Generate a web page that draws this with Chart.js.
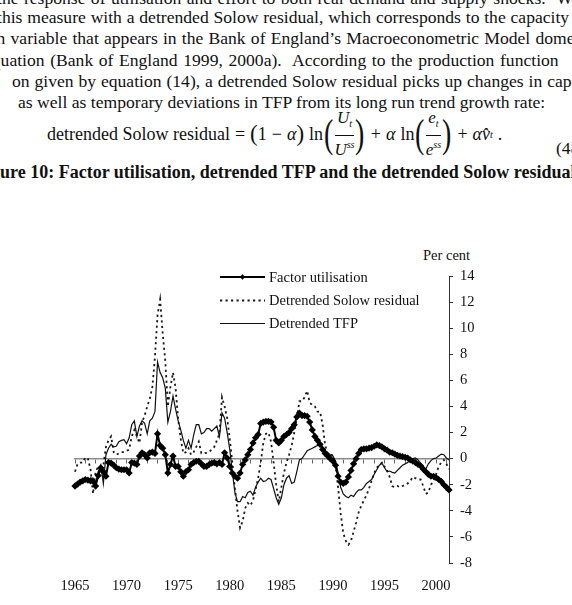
<!DOCTYPE html>
<html>
<head>
<meta charset="utf-8">
<script src="https://cdn.jsdelivr.net/npm/chart.js@4.4.1/dist/chart.umd.min.js"></script>
<style>
  html, body { margin: 0; padding: 0; background: #fff; }
  body {
    width: 572px; height: 605px; overflow: hidden; position: relative;
    font-family: "Liberation Serif", "Times New Roman", serif; color: #111;
  }
  .ln { position: absolute; white-space: nowrap; font-size: 17.6px; line-height: 22px; }
  .title { font-weight: bold; font-size: 18px; }
  #eq { position: absolute; left: 47px; top: 112px; height: 44px; display: flex; align-items: center;
        white-space: nowrap; font-size: 18px; }
  #eq i { font-style: italic; }
  .bp { font-size: 40px; line-height: 40px; transform: scaleX(0.7); display: inline-block; margin: 0 -1px; }
  .mp { font-size: 23px; display: inline-block; }
  .frac { display: inline-flex; flex-direction: column; align-items: center; font-size: 17px; line-height: 18px; }
  .frac .num { border-bottom: 1px solid #111; padding: 0 2px 1px; }
  .frac sub, .frac sup, #eq sub { font-size: 10px; }
  .sp { display: inline-block; width: 5px; }
  #percent { position: absolute; left: 423px; top: 247px; font-size: 14.5px; white-space: nowrap; }
  #chart { position: absolute; left: 0; top: 0; }
</style>
</head>
<body>
<div class="ln" style="left:-3px; top:-13px; word-spacing:1px">the response of utilisation and effort to both real demand and supply shocks.&nbsp; We</div>
<div class="ln" style="left:-3px; top:6px; word-spacing:0.4px">this measure with a detrended Solow residual, which corresponds to the capacity</div>
<div class="ln" style="left:-65px; top:27px; word-spacing:0.8px">utilisation variable that appears in the Bank of England’s Macroeconometric Model domestic</div>
<div class="ln" style="left:-16px; top:49px; word-spacing:1.2px">equation (Bank of England 1999, 2000a).&nbsp; According to the production function</div>
<div class="ln" style="left:12px; top:70px; word-spacing:0.5px">on given by equation (14), a detrended Solow residual picks up changes in capacity</div>
<div class="ln" style="left:18px; top:91px">as well as temporary deviations in TFP from its long run trend growth rate:</div>
<div id="eq">
  <span>detrended Solow residual</span><span class="sp"></span>=<span class="sp"></span>
  <span class="mp">(</span>1<span class="sp"></span>−<span class="sp"></span><i>α</i><span class="mp">)</span><span class="sp"></span>ln
  <span class="bp">(</span><span class="frac"><span class="num"><i>U</i><sub><i>t</i></sub></span><span class="den"><i>U</i><sup><i>ss</i></sup></span></span><span class="bp">)</span>
  <span class="sp"></span>+<span class="sp"></span><i>α</i><span class="sp"></span>ln
  <span class="bp">(</span><span class="frac"><span class="num"><i>e</i><sub><i>t</i></sub></span><span class="den"><i>e</i><sup><i>ss</i></sup></span></span><span class="bp">)</span>
  <span class="sp"></span>+<span class="sp"></span><i>α</i><i>v̂</i><sub><i>t</i></sub><span class="sp"></span>.
</div>
<div class="ln" style="left:556px; top:137px">(48)</div>
<div class="ln title" style="left:-25px; top:161px">Figure 10: Factor utilisation, detrended TFP and the detrended Solow residual</div>
<div id="percent">Per cent</div>
<canvas id="chart" width="572" height="605"></canvas>
<script>
// quarterly observations, 1965 Q1 to 2001 Q2
const quarters = [];
for (let year = 1965; year <= 2001; year++) {
    for (let q = 1; q <= 4; q++) {
        if (year === 2001 && q > 2) break;
        quarters.push(`${year} Q${q}`);
    }
}
const yearLabels = ["1965", "1970", "1975", "1980", "1985", "1990", "1995", "2000"];

const factorUtilisation = [
    -2.1, -1.95, -1.8, -1.7, -1.6, -1.65, -1.7, -1.75, -2.1, -1.3,
    -0.7, -1.0, -1.35, -0.3, -0.35, -0.5, -0.7, -0.8, -0.85, -0.85,
    -0.85, -1.1, -0.3, -0.35, -0.45, 0.2, 0.45, 0.3, 0.05, 0.45,
    0.5, 0.4, 1.9, 1.0, 0.8, 0.3, -1.1, -0.45, 0.2, -0.6,
    -0.6, -1.0, -1.35, -1.0, -0.85, -0.45, -0.3, -0.2, -0.2, -0.4,
    -0.6, -0.6, -0.45, -0.35, -0.3, -0.4, -0.3, -0.45, 0.45, 0.05,
    -0.6, -1.1, -1.35, -1.5, -1.1, -0.45, -0.1, 0.3, 0.7, 1.2,
    1.6, 1.85, 2.7, 2.8, 2.85, 2.85, 2.8, 2.4, 1.4, 1.2,
    1.4, 1.7, 1.85, 2.0, 2.3, 2.6, 3.2, 3.5, 3.3, 3.3,
    3.25, 2.8, 2.2, 1.7, 1.4, 1.1, 0.7, 0.4, 0.2, 0.0,
    -0.2, -0.5, -1.35, -1.8, -1.9, -1.8, -1.4, -0.9, -0.4, 0.0,
    0.4, 0.7, 0.75, 0.75, 0.8, 0.85, 0.95, 1.05, 1.0, 0.9,
    0.75, 0.65, 0.5, 0.45, 0.35, 0.25, 0.2, 0.15, 0.1, 0.05,
    -0.1, -0.2, -0.3, -0.45, -0.55, -0.8, -1.0, -1.2, -1.35, -1.35,
    -1.45, -1.6, -1.75, -2.0, -2.2, -2.4,
];

const solowResidual = [
    -1.0, -0.4, -0.3, -0.3, 0.1, 0.0, -0.8, -2.7, -1.0, -0.6,
    -0.7, -0.5, 0.9, 1.4, 1.7, 0.5, 0.3, 0.4, 0.5, 0.5,
    0.6, 0.7, 1.7, 2.2, 1.7, 1.2, 2.8, 3.3, 4.0, 4.6,
    5.5, 7.8, 11.0, 12.2, 9.6, 7.5, 4.0, 5.5, 6.6, 5.4,
    3.0, 1.5, 0.4, 0.5, 0.8, 0.3, 0.5, 0.9, 1.3, 0.4,
    0.4, 0.45, 0.5, 0.7, 0.9, 1.4, 1.9, 4.7, 4.0, 3.1,
    1.5, -0.3, -2.3, -4.0, -5.3, -4.8, -3.8, -3.4, -3.6, -3.2,
    -2.4, -1.5, -0.3, 1.2, 1.9, 2.0, 1.3, -0.3, -2.0, -3.3,
    -2.2, -1.1, -0.3, 0.3, 1.0, 2.0, 3.1, 4.4, 4.4, 4.7,
    5.2, 4.3, 4.1, 4.0, 3.6, 3.6, 2.6, 1.0, 0.35, 0.3,
    0.25, -0.5, -2.2, -4.2, -5.7, -6.3, -6.6, -6.3, -5.6, -4.9,
    -4.1, -3.6, -3.2, -2.8, -2.3, -1.7, -1.1, -0.7, -0.5, -0.3,
    -0.6, -0.9, -1.4, -2.1, -2.2, -2.1, -2.2, -2.1, -2.0, -1.9,
    -1.7, -1.4, -1.5, -1.6, -1.6, -2.1, -2.7, -2.6, -2.0, -1.7,
    -1.2, -0.6, -0.3, -0.1, -0.4, -0.8,
];

const detrendedTFP = [
    -1.9, -1.8, -1.7, -1.7, -1.6, -1.6, -1.5, -1.5, -1.9, -1.0,
    -0.5, -1.9, 0.3, 0.8, 1.1, 0.9, 0.95, 1.3, 1.4, 1.45,
    1.15, 1.6, 2.6, 2.9, 1.7, 2.5, 2.9, 2.7, 1.9, 2.9,
    3.1, 3.6, 7.4, 6.6, 6.2, 5.4, 2.8, 3.6, 4.8, 3.8,
    2.9, 2.2, 1.4, 0.8, 1.4, 0.8, 1.8, 2.6, 2.6, 1.9,
    2.0, 2.3, 2.3, 2.1, 2.3, 2.5, 1.7, 3.5, 3.1, 2.0,
    0.7, -1.0, -2.6, -3.3, -3.3, -2.9, -3.0, -2.6, -2.5, -2.8,
    -2.2, -1.8, -1.5, -1.75, -1.7, -1.5, -1.6, -2.3, -3.0, -3.5,
    -3.0, -2.0, -1.5, -1.3, -1.9, -1.8, -1.0, -0.1, 0.0, 0.3,
    0.6, 0.7, 0.8, 0.9, 1.0, 1.2, 0.9, 0.6, 0.45, 0.3,
    0.2, -0.2, -1.1, -2.2, -2.7, -2.9, -3.0, -2.8, -2.9, -2.6,
    -2.4, -2.4, -2.2, -1.9, -1.75, -1.6, -1.2, -0.85, -0.5, -0.35,
    -0.7, -1.0, -0.95, -1.05, -1.1, -0.9, -0.7, -0.5, -0.4, -0.3,
    -0.1, 0.0, 0.05, -0.1, -0.35, -0.65, -0.8, -0.4, -0.15, 0.0,
    0.05, 0.2, 0.35, 0.3, 0.05, -0.1,
];

const serif = "'Liberation Serif', 'Times New Roman', serif";
Chart.defaults.font.family = serif;
Chart.defaults.color = "#111";

// legend sits inside the plot, left of the axis, like the printed figure
const legendRows = [277, 300.5, 323.5];
const legendLine = { from: 220, to: 265, text: 269 };

const insideLegend = {
    id: "insideLegend",
    afterDraw(chart) {
        const { ctx } = chart;
        ctx.save();
        chart.data.datasets.forEach((ds, k) => {
            const y = legendRows[k];
            ctx.strokeStyle = ds.borderColor;
            ctx.lineWidth = ds.borderWidth;
            ctx.setLineDash(ds.borderDash || []);
            ctx.beginPath();
            ctx.moveTo(legendLine.from, y);
            ctx.lineTo(legendLine.to, y);
            ctx.stroke();
            ctx.setLineDash([]);
            if (ds.pointRadius > 0) {
                const cx = (legendLine.from + legendLine.to) / 2;
                const r = 2.8;
                ctx.fillStyle = ds.pointBackgroundColor;
                ctx.beginPath();
                ctx.moveTo(cx, y - r);
                ctx.lineTo(cx + r, y);
                ctx.lineTo(cx, y + r);
                ctx.lineTo(cx - r, y);
                ctx.closePath();
                ctx.fill();
            }
            ctx.fillStyle = "#111";
            ctx.font = `14.5px ${serif}`;
            ctx.textAlign = "left";
            ctx.textBaseline = "middle";
            ctx.fillText(ds.label, legendLine.text, y + 1);
        });
        ctx.restore();
    },
};

new Chart(document.getElementById("chart"), {
    type: "line",
    data: {
        labels: quarters,
        datasets: [
            {
                label: "Factor utilisation",
                data: factorUtilisation,
                borderColor: "#000",
                borderWidth: 2,
                pointStyle: "rectRot",
                pointRadius: 3.6,
                pointBackgroundColor: "#000",
                pointBorderWidth: 0,
                order: 0,
            },
            {
                label: "Detrended Solow residual",
                data: solowResidual,
                borderColor: "#1a1a1a",
                borderWidth: 1.8,
                borderDash: [2.2, 3.3],
                pointRadius: 0,
                order: 2,
            },
            {
                label: "Detrended TFP",
                data: detrendedTFP,
                borderColor: "#111",
                borderWidth: 1.2,
                pointRadius: 0,
                order: 1,
            },
        ],
    },
    options: {
        responsive: false,
        animation: false,
        devicePixelRatio: 1,
        layout: { padding: { left: 75, right: 83, top: 276, bottom: 12 } },
        elements: { line: { tension: 0, fill: false } },
        plugins: { legend: { display: false }, tooltip: { enabled: false } },
        scales: {
            x: {
                type: "category",
                position: { y: 0 },
                ticks: { display: false, autoSkip: false },
                grid: {
                    drawOnChartArea: false,
                    drawTicks: true,
                    tickLength: 4,
                    color: (c) => (c.index % 4 === 0 ? "#666" : "rgba(0,0,0,0)"),
                },
                border: { color: "#8c8c8c", width: 1.5 },
            },
            x2: {
                type: "category",
                position: "bottom",
                grid: { display: false, drawTicks: false },
                border: { display: false },
                ticks: {
                    autoSkip: false,
                    maxRotation: 0,
                    padding: 14,
                    color: "#111",
                    font: { size: 14.5 },
                    callback(value, index) {
                        const [year, q] = quarters[index].split(" ");
                        return q === "Q1" && yearLabels.includes(year) ? year : "";
                    },
                },
                afterFit(scale) {
                    scale.height = 30;
                },
            },
            y: {
                position: "right",
                min: -8,
                max: 14,
                ticks: { stepSize: 2, padding: 7, color: "#111", font: { size: 14.5 } },
                grid: { drawOnChartArea: false, tickLength: 4, color: "#333" },
                border: { color: "#333", width: 1 },
                afterFit(scale) {
                    scale.width = 40;
                },
            },
        },
    },
    plugins: [insideLegend],
});
</script>
</body>
</html>
